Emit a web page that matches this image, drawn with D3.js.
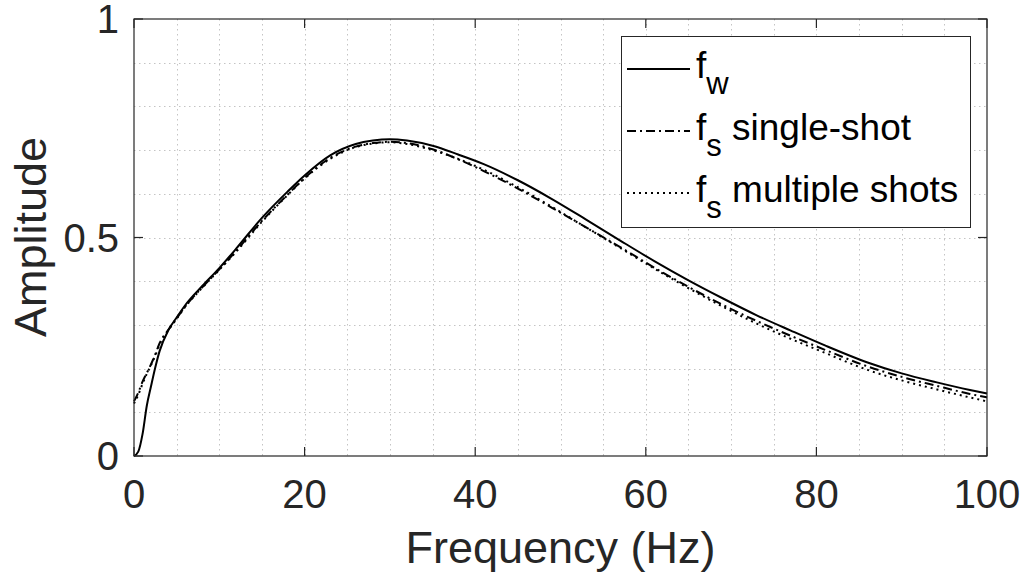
<!DOCTYPE html>
<html>
<head>
<meta charset="utf-8">
<script src="https://cdn.jsdelivr.net/npm/d3@7"></script>
<style>
  body { margin: 0; background: #fff; }
  svg { display: block; font-family: "Liberation Sans", Arial, sans-serif; }
</style>
</head>
<body>
<svg width="1025" height="575"></svg>
<script>
// frequency samples (Hz)
const freq = [0, 0.5, 1, 1.5, 2, 2.5, 3, 4, 5, 6, 8, 10, 12, 15, 18, 20, 23, 26, 28, 30,
  32, 35, 38, 41, 45, 49, 53, 57, 61, 65, 69, 73, 77, 81, 86, 90, 94, 98, 100];
// f_w
const fw = [0, 0.01, 0.05, 0.115, 0.16, 0.203, 0.24, 0.287, 0.317, 0.345, 0.389, 0.43, 0.475, 0.545, 0.605, 0.642, 0.688, 0.714, 0.722, 0.725,
  0.722, 0.71, 0.69, 0.668, 0.631, 0.588, 0.541, 0.493, 0.446, 0.402, 0.361, 0.322, 0.287, 0.253, 0.214, 0.189, 0.169, 0.151, 0.143];
// f_s single-shot
const fsSingle = [0.125, 0.145, 0.17, 0.19, 0.21, 0.233, 0.258, 0.288, 0.315, 0.342, 0.386, 0.427, 0.47, 0.538, 0.598, 0.636, 0.682, 0.708, 0.716, 0.719,
  0.716, 0.702, 0.679, 0.652, 0.612, 0.568, 0.523, 0.478, 0.431, 0.387, 0.346, 0.309, 0.275, 0.243, 0.205, 0.181, 0.161, 0.142, 0.134];
// f_s multiple shots
const fsMulti = [0.12, 0.14, 0.165, 0.188, 0.208, 0.23, 0.255, 0.287, 0.314, 0.341, 0.385, 0.426, 0.468, 0.536, 0.597, 0.635, 0.68, 0.707, 0.715, 0.718,
  0.714, 0.7, 0.68, 0.655, 0.615, 0.57, 0.523, 0.476, 0.429, 0.384, 0.342, 0.303, 0.268, 0.236, 0.197, 0.173, 0.153, 0.134, 0.125];

const xTicks = [0, 20, 40, 60, 80, 100];
const yTicks = [0, 0.5, 1];
const seriesNames = ["w", "s", "s"];
const seriesText = ["", " single-shot", " multiple shots"];

const svg = d3.select("svg");
const plotL = 134, plotR = 987, plotT = 19, plotB = 456;
const axisColor = "#262626";

const x = d3.scaleLinear().domain([0, 100]).range([plotL, plotR]);
const y = d3.scaleLinear().domain([0, 1]).range([plotB, plotT]);

// grid (minor every 5 Hz / 0.1)
const grid = svg.append("g").attr("stroke", "#c4c4c4").attr("stroke-width", 1).attr("stroke-dasharray", "1.5,3.5");
grid.selectAll(".gx").data(d3.range(5, 100, 5)).enter().append("line")
  .attr("x1", d => Math.round(x(d)) + 0.5).attr("x2", d => Math.round(x(d)) + 0.5)
  .attr("y1", plotT).attr("y2", plotB);
grid.selectAll(".gy").data(d3.range(1, 10).map(d => d / 10)).enter().append("line")
  .attr("y1", d => Math.round(y(d)) + 0.5).attr("y2", d => Math.round(y(d)) + 0.5)
  .attr("x1", plotL).attr("x2", plotR);

// curves
const line = (vals) => d3.line()
  .x((d, i) => x(freq[i]))
  .y(d => y(d))
  .curve(d3.curveMonotoneX)(vals);

const styles = [
  { data: fw, dash: null, w: 2 },
  { data: fsSingle, dash: "9,4,2,4", w: 2 },
  { data: fsMulti, dash: "2,4", w: 2 }
];
styles.forEach(s => {
  svg.append("path")
    .attr("d", line(s.data))
    .attr("fill", "none")
    .attr("stroke", "#000")
    .attr("stroke-width", s.w)
    .attr("stroke-dasharray", s.dash);
});

// frame and ticks
svg.append("rect")
  .attr("x", plotL).attr("y", plotT).attr("width", plotR - plotL).attr("height", plotB - plotT)
  .attr("fill", "none").attr("stroke", axisColor).attr("stroke-width", 1.2);

const tickLen = 9;
xTicks.forEach(t => {
  svg.append("line").attr("x1", x(t)).attr("x2", x(t)).attr("y1", plotB).attr("y2", plotB - tickLen)
    .attr("stroke", axisColor).attr("stroke-width", 1.2);
  svg.append("line").attr("x1", x(t)).attr("x2", x(t)).attr("y1", plotT).attr("y2", plotT + tickLen)
    .attr("stroke", axisColor).attr("stroke-width", 1.2);
  svg.append("text").attr("x", x(t)).attr("y", 508)
    .attr("text-anchor", "middle").attr("font-size", 40).attr("fill", axisColor).text(t);
});
yTicks.forEach(t => {
  svg.append("line").attr("x1", plotL).attr("x2", plotL + tickLen).attr("y1", y(t)).attr("y2", y(t))
    .attr("stroke", axisColor).attr("stroke-width", 1.2);
  svg.append("line").attr("x1", plotR).attr("x2", plotR - tickLen).attr("y1", y(t)).attr("y2", y(t))
    .attr("stroke", axisColor).attr("stroke-width", 1.2);
  svg.append("text").attr("x", 119).attr("y", y(t) + 14)
    .attr("text-anchor", "end").attr("font-size", 40).attr("fill", axisColor).text(t);
});

// axis labels
svg.append("text").attr("x", (plotL + plotR) / 2).attr("y", 563)
  .attr("text-anchor", "middle").attr("font-size", 45).attr("fill", axisColor).text("Frequency (Hz)");
svg.append("text").attr("transform", "translate(46,237) rotate(-90)")
  .attr("text-anchor", "middle").attr("font-size", 45).attr("fill", axisColor).text("Amplitude");

// legend
const lg = svg.append("g");
lg.append("rect").attr("x", 621.5).attr("y", 36.5).attr("width", 349).attr("height", 191)
  .attr("fill", "#fff").attr("stroke", axisColor).attr("stroke-width", 1);
const rowBase = [78, 140, 202];
styles.forEach((s, i) => {
  lg.append("line").attr("x1", 627).attr("x2", 690)
    .attr("y1", rowBase[i] - 9).attr("y2", rowBase[i] - 9)
    .attr("stroke", "#000").attr("stroke-width", s.w).attr("stroke-dasharray", s.dash);
  const t = lg.append("text").attr("x", 696).attr("y", rowBase[i])
    .attr("font-size", 37).attr("fill", "#000");
  t.append("tspan").text("f");
  t.append("tspan").attr("dy", 16).attr("font-size", 31).text(seriesNames[i]);
  t.append("tspan").attr("dy", -16).text(seriesText[i]);
});
</script>
</body>
</html>
